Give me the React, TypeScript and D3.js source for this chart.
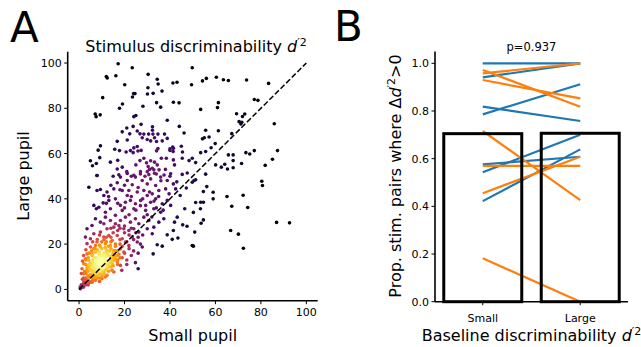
import React, { useMemo } from 'react';
import * as d3 from 'd3';

// ---------- Panel A data: [small pupil d'^2, large pupil d'^2] ----------
const pupilPairs: [number, number][] = [
  // upper region
  [17.2,99.7],[23.4,97.9],[12.0,94.0],[12.4,93.4],[16.2,94.4],[20.1,90.4],[30.4,95.0],[34.4,92.8],[34.8,90.7],[30.3,89.1],
  [41.3,91.2],[43.1,91.5],[49.8,97.9],[49.5,90.4],[30.1,86.3],[32.6,86.6],[36.5,87.6],[24.0,86.5],[24.6,86.5],[23.5,85.0],
  [10.4,84.7],[28.1,80.9],[19.1,81.9],[17.8,80.0],[34.1,82.5],[35.9,80.5],[41.5,82.7],[44.0,82.4],[7.1,77.5],[7.5,76.3],
  [9.3,77.1],[24.1,76.3],[25.0,76.8],[38.8,74.7],[44.1,72.0],[46.2,69.1],[27.3,72.9],[23.8,72.0],[25.6,70.0],[21.0,71.3],
  [19.0,69.6],[22.3,68.7],[21.2,66.0],[16.8,65.4],[26.8,68.7],[28.5,68.6],[30.6,68.6],[32.3,71.8],[32.3,70.3],[32.5,68.6],
  [34.7,68.6],[37.6,68.6],[30.0,66.2],[31.5,65.6],[34.1,65.3],[36.6,65.6],[9.4,63.4],[8.4,61.5],[15.7,61.9],[17.8,61.3],
  [20.7,60.7],[22.6,61.3],[24.1,62.5],[25.6,63.1],[23.8,60.4],[25.9,61.1],[27.3,61.4],[34.1,61.2],[34.7,62.2],[40.0,62.1],
  [41.2,62.9],[41.4,60.9],[45.0,63.2],[45.5,60.7],[5.0,56.8],[5.9,54.6],[7.6,55.6],[9.1,58.2],[13.8,56.2],[16.8,53.2],
  [7.9,50.3],[26.8,56.9],[28.5,57.9],[29.7,55.9],[31.5,56.8],[33.2,56.2],[30.4,54.3],[32.2,53.5],[34.4,55.0],[36.2,57.9],
  [38.4,57.9],[30.0,52.0],[32.9,52.8],[35.2,52.8],[41.5,57.2],[45.4,57.9],[48.4,56.9],[17.5,50.6],[21.2,51.2],[24.1,50.4],
  [27.0,51.0],[30.7,50.7],[33.2,51.3],[37.4,50.5],[40.3,51.1],[45.4,50.8],[47.6,51.4],[27.8,67.0],[33.2,67.0],[38.8,66.7],
  [40.0,61.4],[41.5,62.3],
  // upper right region
  [54.3,92.1],[56.0,93.2],[60.4,93.7],[63.5,92.6],[65.7,92.3],[73.7,92.5],[83.4,91.0],[61.3,82.5],[60.9,80.3],[53.5,79.5],
  [77.1,83.9],[78.7,83.5],[69.3,77.6],[71.9,76.4],[72.9,77.5],[70.4,74.1],[71.2,73.1],[71.6,73.8],[85.9,73.2],[55.7,70.3],
  [61.3,70.1],[67.2,68.8],[54.3,66.5],[55.1,67.0],[57.2,67.3],[59.9,64.4],[58.1,62.6],[53.5,60.4],[55.7,60.9],[49.8,57.9],
  [51.3,56.0],[65.7,59.4],[67.8,59.4],[67.8,56.9],[73.4,60.4],[75.1,59.8],[77.1,61.3],[60.1,55.0],[62.6,54.0],[64.1,55.3],
  [65.3,53.2],[67.8,53.7],[71.5,55.6],[87.3,61.3],[85.1,57.5],[81.9,54.8],[55.7,50.9],
  // lower right region
  [50.6,48.1],[51.3,48.4],[49.8,47.3],[56.2,45.4],[54.7,43.2],[59.0,42.9],[59.0,40.0],[51.3,38.4],[53.5,38.5],[54.7,38.5],
  [53.4,35.6],[50.3,34.0],[54.7,30.7],[53.7,29.2],[50.9,25.3],[50.3,19.1],[65.1,41.0],[72.2,41.6],[67.2,36.7],[74.2,36.2],
  [80.4,47.8],[80.7,45.9],[66.7,26.0],[70.1,24.4],[72.3,18.2],[86.9,29.6],[92.6,29.4],
  [46.5,35.6],[43.2,31.9],[42.0,29.7],[45.6,28.5],[47.5,27.9],[41.5,26.0],[38.8,24.1],[41.0,22.1],[43.5,22.7],[34.4,19.7],
  [36.6,19.1],[32.6,15.7],[49.8,19.4],[24.8,11.8],[26.0,9.1],[44.5,41.5],[47.2,44.8],[43.0,47.5],[18.8,8.4],[21.0,11.0],
  // purple band
  [7.9,50.3],[18.2,49.6],[21.2,48.1],[24.8,49.6],[27.8,48.1],[31.5,48.8],[35.9,49.6],[38.8,48.1],[41.5,46.6],[30.0,46.6],
  [23.4,46.2],[16.8,47.1],[33.7,45.9],[4.3,45.1],[7.9,43.7],[9.4,44.1],[12.3,43.0],[15.3,44.4],[19.0,43.7],[21.9,43.7],
  [25.6,43.0],[28.5,43.7],[32.2,42.2],[35.1,43.7],[38.1,44.4],[39.6,42.2],[42.5,44.4],[10.9,41.5],[21.2,41.5],[30.0,41.5],
  [6.5,37.1],[8.7,36.3],[10.6,38.2],[13.1,39.3],[16.0,40.0],[18.2,37.1],[20.4,38.5],[22.6,39.3],[24.8,37.8],[27.1,39.3],
  [29.3,37.1],[31.5,38.5],[33.7,40.0],[36.6,37.8],[38.8,39.3],[40.3,37.1],[24.1,35.6],[19.0,34.9],[13.8,35.6],[11.6,34.1],
  [7.6,35.6],[29.3,34.9],[32.9,35.6],[35.9,34.1],
  [17.0,38.0],[20.0,36.0],[22.0,33.0],[25.0,35.0],[27.0,37.0],[30.0,33.0],[32.0,32.0],[34.0,36.0],[18.0,44.0],[20.0,46.0],
  [23.0,41.0],[26.0,45.0],[28.0,40.0],[31.0,43.0],[33.0,39.0],[35.0,41.0],[37.0,35.0],[36.0,48.0],[34.0,51.0],[31.0,53.0],
  [29.0,50.0],[27.0,52.0],[25.0,55.0],[23.0,50.0],[21.0,52.0],[19.0,54.0],[17.0,57.0],[15.0,50.0],[14.0,46.0],[13.0,41.0],
  [12.0,38.0],[38.0,53.0],[40.0,50.0],[42.0,55.0],
  // magenta / red region
  [5.7,28.2],[3.5,26.8],[7.2,31.2],[9.4,29.7],[11.6,31.9],[13.8,30.4],[16.0,32.7],[18.2,30.4],[20.4,31.9],[22.6,29.7],
  [24.8,31.2],[26.3,29.0],[28.5,31.9],[30.7,30.4],[32.9,27.5],[35.1,29.7],[37.3,31.2],[12.3,26.8],[15.3,27.5],[17.5,28.2],
  [19.7,26.8],[21.9,26.0],[24.1,26.8],[26.3,25.3],[30.0,26.8],[32.2,24.6],[10.9,29.0],
  [2.8,23.1],[5.0,22.4],[6.5,24.6],[7.9,20.9],[9.4,25.3],[10.9,23.1],[13.1,23.8],[14.6,21.6],[16.8,23.8],[19.0,22.4],
  [20.4,20.9],[21.9,19.4],[23.4,23.1],[25.6,20.9],[27.8,18.7],[19.7,16.5],[18.2,17.9],[16.8,15.0],[15.3,17.2],[13.8,19.4],
  [11.6,20.2],[9.4,18.7],[7.2,19.4],[5.0,18.7],[3.5,20.2],
  [12.0,21.0],[14.0,23.0],[16.0,20.0],[18.0,22.0],[20.0,25.0],[22.0,24.0],[15.0,25.0],[17.0,26.0],[19.0,19.0],[21.0,21.0],
  [13.0,19.0],[11.0,22.0],[9.0,24.0],[8.0,22.0],[6.0,21.0],[14.0,27.0],[16.0,29.0],[18.0,27.0],[20.0,28.0],[23.0,27.0],
  [24.0,22.0],[26.0,23.0],[22.0,18.0],[20.0,16.0],[17.0,17.0],[15.0,16.0],[24.0,17.0],[19.0,14.0],[21.0,13.0],[23.0,15.0],
  [26.0,16.0],[27.0,20.0],[25.0,25.0],[28.0,24.0],
  // orange core
  [3.5,15.7],[2.8,13.5],[2.1,11.3],[1.3,9.1],[2.1,6.9],[3.5,8.4],[5.0,10.6],[4.3,12.8],[5.7,15.0],[7.2,16.5],
  [8.7,15.7],[9.4,13.5],[10.9,15.0],[12.3,16.5],[11.6,12.1],[10.1,10.6],[7.9,9.1],[6.5,7.7],[5.0,5.4],[3.5,4.0],
  [2.1,3.2],[1.3,1.8],[0.6,0.3],[5.7,3.2],[7.9,6.2],[9.4,6.9],[11.6,8.4],[13.1,9.9],[14.6,11.3],[15.3,12.8],
  [13.8,14.3],[16.8,12.1],[15.3,7.7],[18.2,10.6],[12.3,6.2],[10.1,4.7],[7.2,4.0],
  [3.0,5.0],[4.0,6.0],[4.0,4.0],[2.5,4.5],[5.0,9.0],[4.0,8.0],[3.0,7.0],[2.0,5.0],[1.0,2.0],[1.5,1.0],
  [0.5,1.0],[2.0,2.5],[3.0,3.0],[13.0,11.0],[14.0,13.0],[13.0,15.0],[12.0,14.5],[11.0,16.0],[10.0,15.0],[9.0,16.5],
  [8.0,14.0],[6.0,13.0],[5.0,11.5],[4.0,10.0],[3.0,11.0],[14.0,10.0],[15.0,14.0],[16.0,15.0],[12.0,9.0],[13.0,8.0],
  [11.0,7.0],[10.0,6.0],[9.0,5.0],[8.0,5.0],[6.0,4.0],[7.0,5.5],[5.5,3.5],[4.0,2.0],[2.0,1.0],[17.0,13.0],
  [18.0,14.0],[15.0,10.5],[12.0,17.5],[14.0,18.0],[10.0,18.0],[8.0,17.5],[6.0,16.0],[4.0,14.0],[6.5,18.0],[3.0,13.0],
  [2.5,8.0],[3.5,9.5],[4.5,11.0],[6.0,12.0],[7.0,14.0],[8.5,13.0],[9.5,15.0],[11.0,14.0],[12.5,15.5],[14.5,15.0],
  [16.0,17.0],[17.5,15.5],[13.5,17.0],[11.5,18.5],[9.0,19.5],[7.0,18.0],[5.5,17.0],[4.5,16.0],[3.0,17.5],[2.0,15.0],
  [1.5,12.5],[1.0,7.0],[1.5,4.5],[3.0,2.0],[4.5,3.0],[6.5,5.0],[8.5,6.5],[10.5,8.0],[12.5,10.5],[14.0,12.0],
  [16.0,13.5],[17.0,11.0],[14.5,8.5],[11.5,5.5],[9.0,3.5],[16.0,19.0],[18.0,20.0],[14.0,21.0],[12.0,23.0],[10.0,21.0],
  // yellow core
  [6.0,8.0],[7.0,9.0],[8.0,10.0],[9.0,11.0],[7.0,10.5],[8.0,8.5],[9.0,9.5],[10.0,12.0],[6.5,9.5],[8.5,11.5],
  [7.5,7.5],[10.0,10.0],[11.0,12.5],[9.0,12.5],[6.0,7.0],[5.5,8.5],[8.0,12.0],[10.5,11.0],[7.0,11.5],[9.5,8.5],
  [11.0,10.5],[12.0,13.0],[6.5,6.5],[8.5,9.0],[7.5,12.5],[9.5,13.5],[10.5,13.0],[5.0,6.5],[11.5,11.5],[12.5,12.0],
  [4.5,5.5],[6.0,10.5],[8.0,7.0],[10.0,9.0],[7.0,8.0],
];

// ---------- Panel B data ----------
const baselineCategories = ['Small', 'Large'];
const blueSmall = [1.0, 0.941, 0.818, 0.786, 0.543, 0.576, 0.422];
const blueLarge = [1.0, 1.0, 0.758, 0.912, 0.700, 0.608, 0.639];
const orangeSmall = [0.958, 0.972, 0.930, 0.716, 0.570, 0.455, 0.182];
const orangeLarge = [1.0, 0.818, 0.853, 0.426, 0.570, 0.608, 0.0];
const pValueText = 'p=0.937';
const axisTicksA = [0, 20, 40, 60, 80, 100];
const axisTicksB = [0, 0.2, 0.4, 0.6, 0.8, 1.0];

const FONT = '"DejaVu Sans", sans-serif';
const BLUE = '#1f77b4';
const ORANGE = '#ff7f0e';

export default function App() {
  // Panel A scales
  const xA = d3.scaleLinear().domain([-5, 105]).range([67.7, 317.7]);
  const yA = d3.scaleLinear().domain([-5, 105]).range([300.7, 51.7]);

  // Panel B scales
  const xB = d3.scaleLinear().domain([-0.49, 1.49]).range([435, 628]);
  const yB = d3.scaleLinear().domain([0, 1.05]).range([301.7, 51.4]);

  const colored = useMemo(() => {
    const bw = 6.5;
    const dens = pupilPairs.map(([x, y]) => {
      let s = 0;
      for (const [a, b] of pupilPairs) {
        const dx = (x - a) / bw, dy = (y - b) / bw;
        s += Math.exp(-0.5 * (dx * dx + dy * dy));
      }
      return s;
    });
    const [mn, mx] = d3.extent(dens) as [number, number];
    const pts = pupilPairs.map((p, i) => ({ p, d: (dens[i] - mn) / (mx - mn) }));
    pts.sort((a, b) => a.d - b.d);
    return pts;
  }, []);

  const diag = d3.line<number>().x((v) => xA(v)).y((v) => yA(v))([0, 100]) as string;

  const smallMean = d3.mean([...blueSmall, ...orangeSmall]) as number;
  const largeMean = d3.mean([...blueLarge, ...orangeLarge]) as number;
  const barMeans = [smallMean, largeMean];
  const barW = xB(0.8) - xB(0);

  const pairLine = d3.line<[number, number]>().x((d) => xB(d[0])).y((d) => yB(d[1]));

  return (
    <svg width={641} height={347} style={{ position: 'absolute', left: 0, top: 0, background: '#fff' }} fontFamily={FONT}>
      <rect x={0} y={0} width={641} height={347} fill="#fff" />
      {/* Panel labels */}
      <text x={10} y={42} fontSize={42}>A</text>
      <text x={334} y={41} fontSize={42}>B</text>

      {/* ---------- Panel A ---------- */}
      <g>
        {colored.map(({ p, d }, i) => (
          <circle key={i} cx={xA(p[0])} cy={yA(p[1])} r={1.8} fill={d3.interpolateInferno(Math.min(1, d))} />
        ))}
        <path d={diag} stroke="#000" strokeWidth={1.5} strokeDasharray="5.5,2.4" fill="none" />
        {/* spines */}
        <line x1={67.7} x2={67.7} y1={51.7} y2={300.7} stroke="#000" strokeWidth={1.6} />
        <line x1={67.7} x2={317.7} y1={300.7} y2={300.7} stroke="#000" strokeWidth={1.6} />
        {axisTicksA.map((t) => (
          <g key={'xa' + t}>
            <line x1={xA(t)} x2={xA(t)} y1={300.7} y2={304.2} stroke="#000" strokeWidth={1} />
            <text x={xA(t)} y={315.5} fontSize={11} textAnchor="middle">{t}</text>
          </g>
        ))}
        {axisTicksA.map((t) => (
          <g key={'ya' + t}>
            <line x1={64.2} x2={67.7} y1={yA(t)} y2={yA(t)} stroke="#000" strokeWidth={1} />
            <text x={61.7} y={yA(t) + 4} fontSize={11} textAnchor="end">{t}</text>
          </g>
        ))}
        <text x={196} y={52} fontSize={16} textAnchor="middle">
          Stimulus discriminability <tspan fontStyle="italic">d</tspan>
          <tspan fontSize={11} dy={-6}>′2</tspan>
        </text>
        <text x={192.7} y={341} fontSize={16} textAnchor="middle">Small pupil</text>
        <text transform={`translate(29,176) rotate(-90)`} fontSize={16} textAnchor="middle">Large pupil</text>
      </g>

      {/* ---------- Panel B ---------- */}
      <g>
        {blueSmall.map((v, i) => (
          <path key={'b' + i} d={pairLine([[0, v], [1, blueLarge[i]]]) as string} stroke={BLUE} strokeWidth={2.2} fill="none" />
        ))}
        {orangeSmall.map((v, i) => (
          <path key={'o' + i} d={pairLine([[0, v], [1, orangeLarge[i]]]) as string} stroke={ORANGE} strokeWidth={2.2} fill="none" />
        ))}
        {barMeans.map((m, i) => (
          <rect key={'bar' + i} x={xB(i) - barW / 2} y={yB(m)} width={barW} height={yB(0) - yB(m)}
            fill="none" stroke="#000" strokeWidth={3} />
        ))}
        <line x1={435} x2={435} y1={51.4} y2={301.7} stroke="#000" strokeWidth={1.6} />
        <line x1={435} x2={628} y1={301.7} y2={301.7} stroke="#000" strokeWidth={1.6} />
        {axisTicksB.map((t) => (
          <g key={'yb' + t}>
            <line x1={431.5} x2={435} y1={yB(t)} y2={yB(t)} stroke="#000" strokeWidth={1} />
            <text x={429} y={yB(t) + 4} fontSize={11} textAnchor="end">{t.toFixed(1)}</text>
          </g>
        ))}
        {baselineCategories.map((c, i) => (
          <g key={c}>
            <line x1={xB(i)} x2={xB(i)} y1={301.7} y2={305.2} stroke="#000" strokeWidth={1} />
            <text x={xB(i)} y={322} fontSize={11} textAnchor="middle">{c}</text>
          </g>
        ))}
        <text x={531.5} y={51} fontSize={11.5} textAnchor="middle">{pValueText}</text>
        <text x={531.5} y={341} fontSize={16} textAnchor="middle">
          Baseline discriminability <tspan fontStyle="italic">d</tspan>
          <tspan fontSize={11} dy={-6}>′2</tspan>
        </text>
        <text transform={`translate(401,176) rotate(-90)`} fontSize={16} textAnchor="middle">
          Prop. stim. pairs where Δ<tspan fontStyle="italic">d</tspan>
          <tspan fontSize={11} dy={-6}>′2</tspan>
          <tspan dy={6}>&gt;0</tspan>
        </text>
      </g>
    </svg>
  );
}
